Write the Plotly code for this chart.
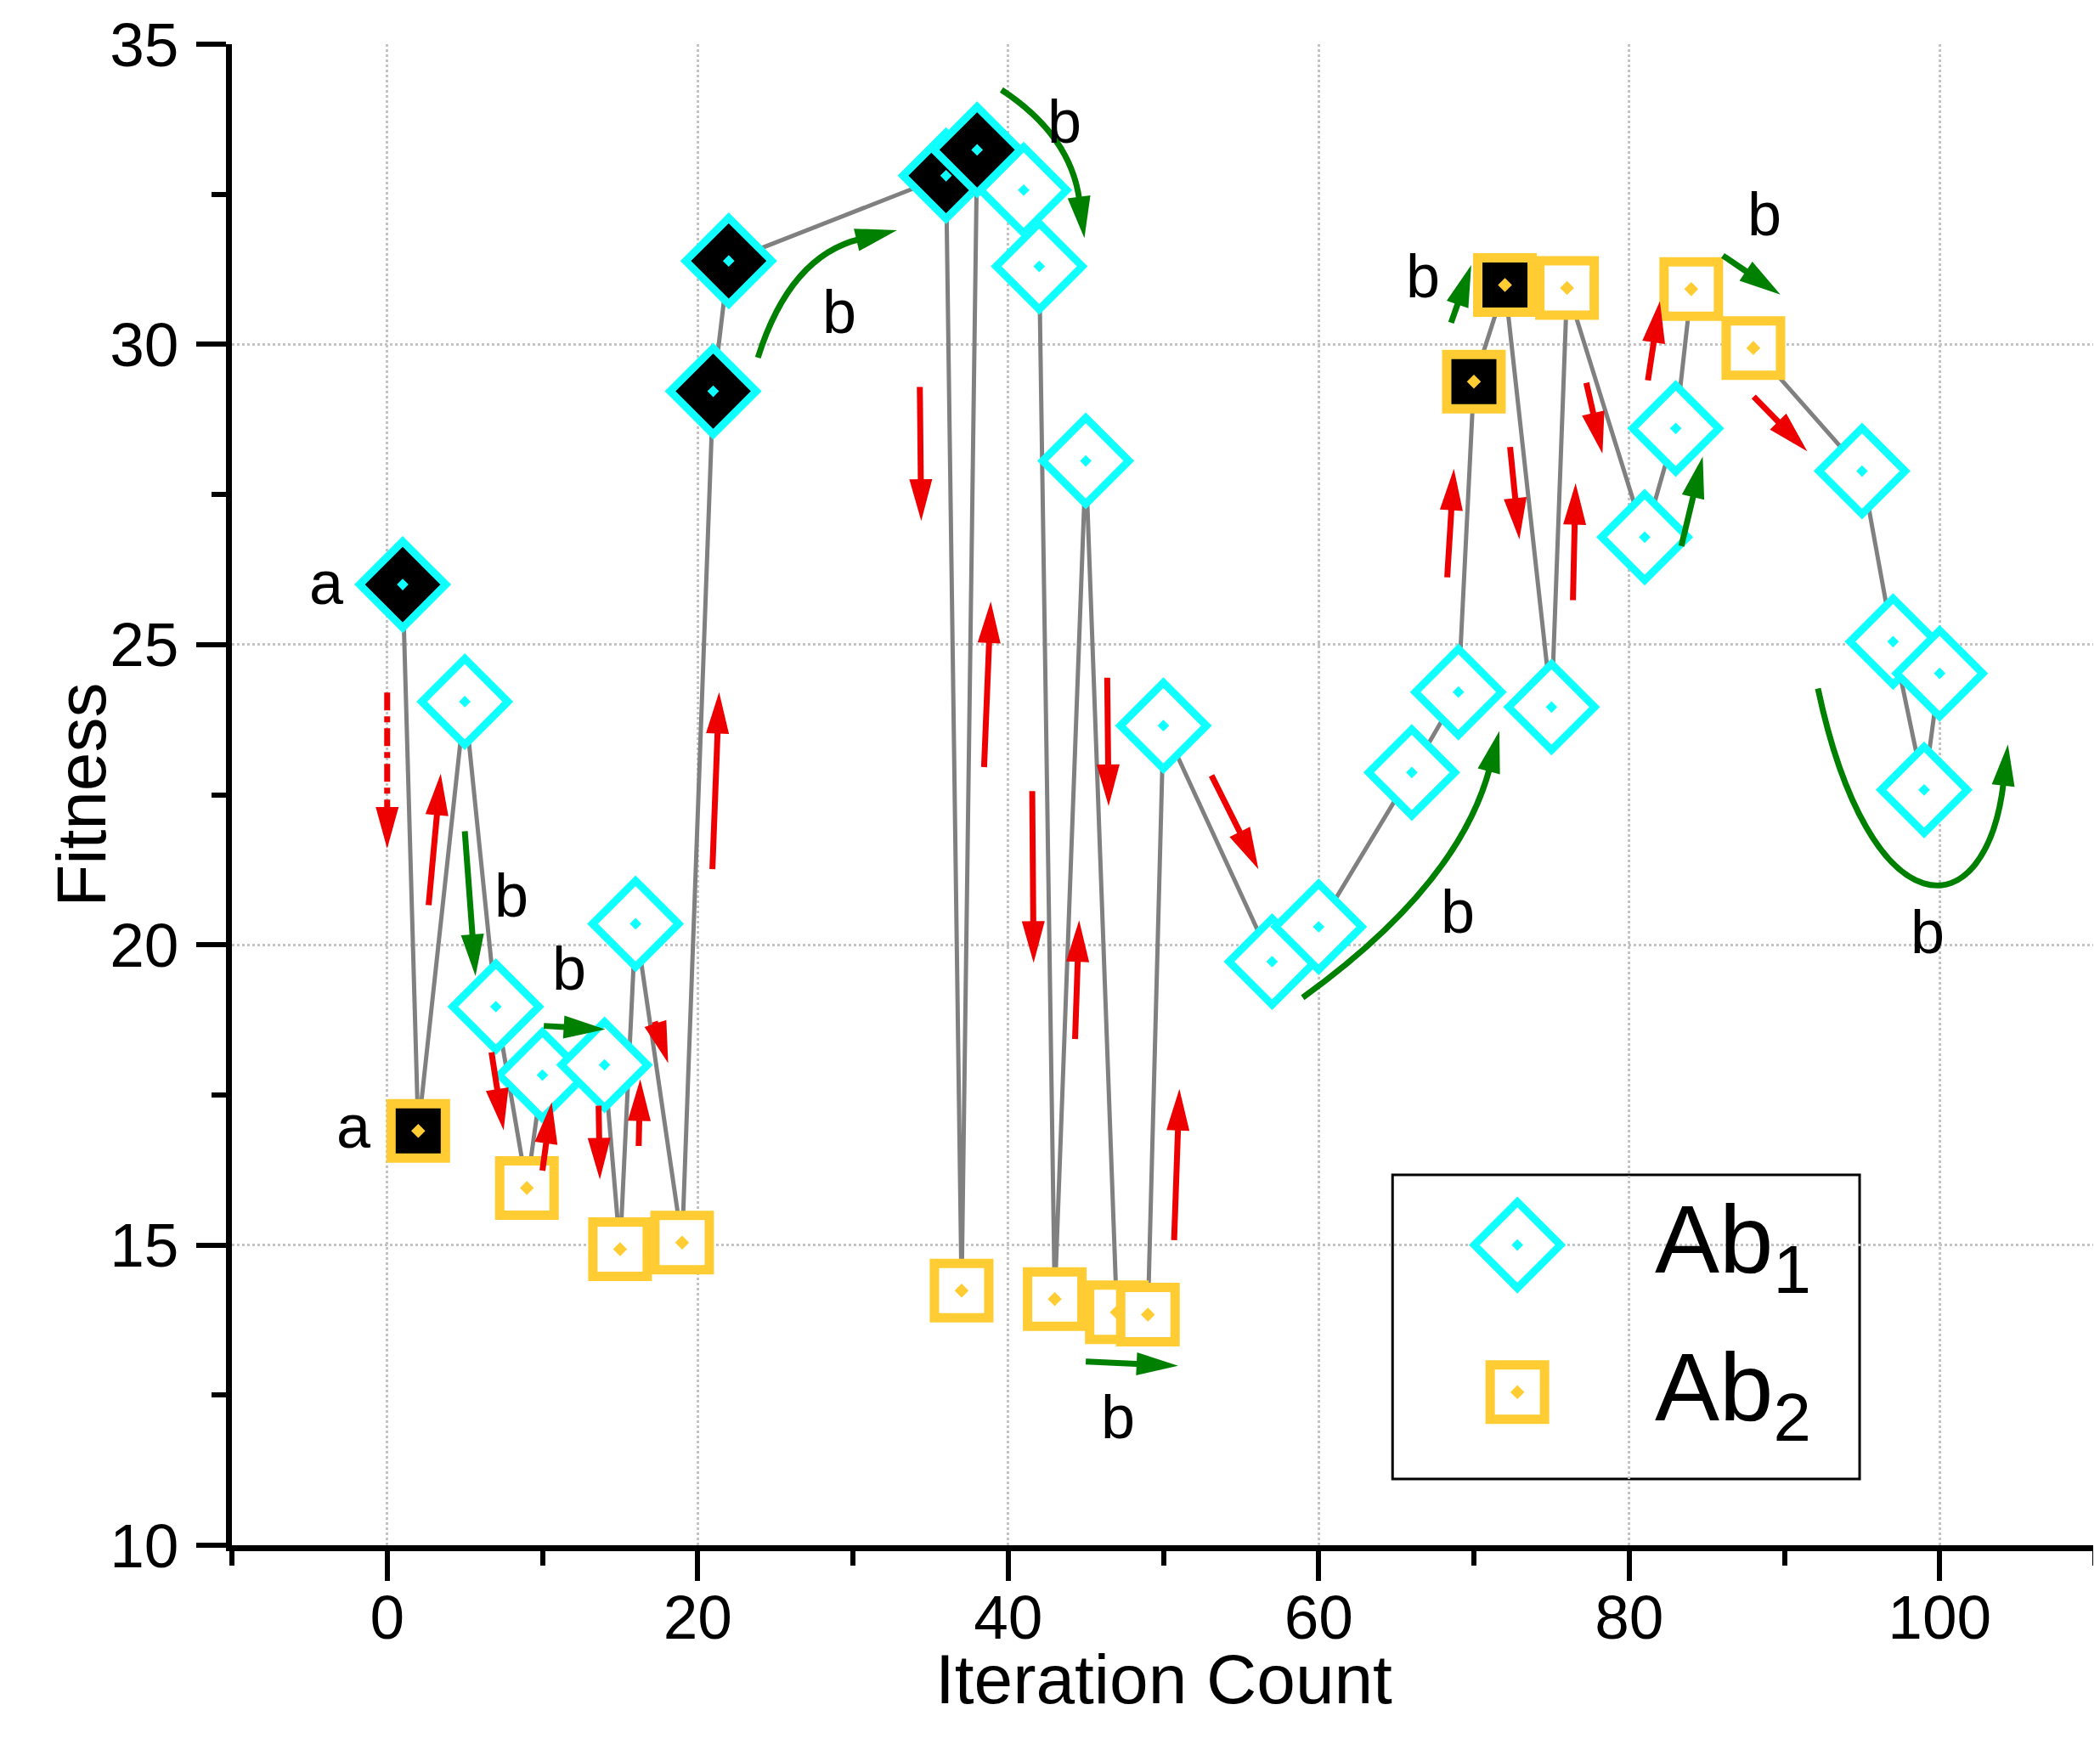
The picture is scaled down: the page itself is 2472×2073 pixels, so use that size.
import math
import plotly.graph_objects as go

# fitness of the two antibodies
ab1_iter = [1, 5, 7, 10, 14, 16, 21, 22, 36, 38, 41, 42, 45, 50, 57, 60, 66, 69,
            75, 81, 83, 95, 97, 99, 100]
ab1_fit = [26.0, 24.05, 18.97, 17.83, 18.0, 20.35, 29.22, 31.39, 32.81, 33.24,
           32.57, 31.3, 28.06, 23.65, 19.72, 20.3, 22.87, 24.21, 23.96, 26.79,
           28.6, 27.89, 25.05, 22.58, 24.52]
ab2_iter = [2, 9, 15, 19, 37, 43, 47, 49, 70, 72, 76, 84, 88]
ab2_fit = [16.9, 15.95, 14.93, 15.04, 14.24, 14.1, 13.88, 13.84, 29.38, 30.99,
           30.94, 30.92, 29.94]
# iterations drawn with a black (filled) marker
ab1_best = [1, 21, 22, 36, 38]
ab2_best = [2, 70, 72]

x_ticks = [0, 20, 40, 60, 80, 100]
y_ticks = [10, 15, 20, 25, 30, 35]

# arrows: (tail x, tail y, head x, head y)
red_arrows = [(2.67, 20.66, 3.45, 22.85), (6.72, 18.21, 7.5, 16.91),
              (10.0, 16.24, 10.6, 17.38), (13.62, 17.32, 13.7, 16.09),
              (16.2, 16.65, 16.3, 17.76), (17.24, 18.72, 18.1, 18.03),
              (20.95, 21.26, 21.38, 24.21), (34.31, 29.29, 34.4, 27.06),
              (38.45, 22.96, 38.88, 25.72), (41.55, 22.56, 41.64, 19.7),
              (44.31, 18.43, 44.57, 20.41), (46.38, 24.45, 46.47, 22.31),
              (50.69, 15.08, 51.03, 17.6), (53.1, 22.82, 56.12, 21.26),
              (68.28, 26.12, 68.71, 27.93), (72.33, 28.29, 72.93, 26.75),
              (76.38, 25.74, 76.55, 27.69), (77.24, 29.36, 78.28, 28.18),
              (81.21, 29.4, 81.98, 30.72), (88.02, 29.13, 91.47, 28.22)]
green_arrows = [(5.0, 21.89, 5.69, 19.48), (10.09, 18.65, 14.05, 18.59),
                (45.0, 13.06, 50.95, 12.99), (68.53, 30.36, 69.83, 31.32),
                (83.36, 26.64, 84.74, 28.13), (86.03, 31.48, 89.74, 30.83)]
dashed_arrow = (0.0, 24.2, 0.0, 21.6)
# curved green arrows: start, control point(s), end
green_curves = [[(23.88, 29.78), (25.95, 31.48), (32.84, 31.9)],
                [(39.57, 34.24), (44.05, 33.48), (44.91, 31.77)],
                [(58.97, 19.12), (69.05, 21.0), (71.64, 23.56)],
                [(92.16, 24.27), (95.5, 20.2), (103.0, 20.2), (104.4, 23.34)]]
labels = [("a", -3.88, 26.03), ("a", -2.16, 16.98), ("b", 8.0, 20.82),
          ("b", 11.72, 19.61), ("b", 29.14, 30.54), ("b", 43.62, 33.71),
          ("b", 47.07, 12.14), ("b", 68.97, 20.55), ("b", 66.72, 31.14),
          ("b", 88.71, 32.17), ("b", 99.22, 20.21)]

CYAN = "#10FFFF"
GOLD = "#FFCD33"
RED = "#EE0000"
GREEN = "#008000"
FONT = "Liberation Sans, Arial, sans-serif"

# page has an 8px body margin, keep the plot where the reference has it
W, H = 2458, 2057
ML, MR, MT, MB = 265, 0, 44, 246
sx = (W - ML - MR) / 120.0
sy = (H - MT - MB) / 25.0
HEAD_LEN, HEAD_W = 49, 27
ARROW_W = 7


def head_shape(fx, fy, hx, hy, color):
    # narrow triangle head pointing from (fx, fy) towards (hx, hy), size in px
    dx, dy = (hx - fx) * sx, (hy - fy) * sy
    n = math.hypot(dx, dy)
    ux, uy = dx / n, dy / n
    bx, by = -ux * HEAD_LEN, -uy * HEAD_LEN
    px, py = -uy * HEAD_W / 2, ux * HEAD_W / 2
    c1 = (hx + (bx + px) / sx, hy + (by + py) / sy)
    c2 = (hx + (bx - px) / sx, hy + (by - py) / sy)
    fig.add_shape(type="path", path="M{},{} L{},{} L{},{} Z".format(hx, hy, *c1, *c2),
                  fillcolor=color, line=dict(width=0), layer="above")
    # shaft stops a little inside the head so the ends do not show
    return hx + bx * 0.9 / sx, hy + by * 0.9 / sy


def straight_arrow(arrow, color, dash="solid"):
    tx, ty, hx, hy = arrow
    bx, by = head_shape(tx, ty, hx, hy, color)
    fig.add_shape(type="line", x0=tx, y0=ty, x1=bx, y1=by,
                  line=dict(color=color, width=ARROW_W, dash=dash), layer="above")


pts = sorted(zip(ab1_iter + ab2_iter, ab1_fit + ab2_fit))

fig = go.Figure()
fig.add_trace(go.Scatter(x=[p[0] for p in pts], y=[p[1] for p in pts], mode="lines",
                         line=dict(color="#808080", width=5),
                         showlegend=False, hoverinfo="skip"))
fig.add_trace(go.Scatter(
    x=ab1_iter, y=ab1_fit, mode="markers", name="Ab1", showlegend=False,
    marker=dict(symbol="diamond-dot", size=78,
                color=["black" if i in ab1_best else "white" for i in ab1_iter],
                line=dict(color=CYAN, width=9))))
fig.add_trace(go.Scatter(
    x=ab2_iter, y=ab2_fit, mode="markers", name="Ab2", showlegend=False,
    marker=dict(symbol="square-dot", size=64,
                color=["black" if i in ab2_best else "white" for i in ab2_iter],
                line=dict(color=GOLD, width=11))))

# hand made legend, the plotly one caps the marker size
fig.add_shape(type="rect", xref="paper", yref="paper", x0=0.623, x1=0.8737,
              y0=0.0441, y1=0.2467, line=dict(color="black", width=3),
              fillcolor="white", layer="between")
fig.add_trace(go.Scatter(x=[72.8], y=[15.0], mode="markers", showlegend=False,
                         marker=dict(symbol="diamond-dot", size=78, color="white",
                                     line=dict(color=CYAN, width=9))))
fig.add_trace(go.Scatter(x=[72.8], y=[12.55], mode="markers", showlegend=False,
                         marker=dict(symbol="square-dot", size=64, color="white",
                                     line=dict(color=GOLD, width=11))))
for txt, yy in [("Ab<sub>1</sub>", 0.199), ("Ab<sub>2</sub>", 0.101)]:
    fig.add_annotation(text=txt, xref="paper", yref="paper", x=0.763, y=yy,
                       xanchor="left", yanchor="middle", showarrow=False,
                       font=dict(family=FONT, size=114, color="black"))

for a in red_arrows:
    straight_arrow(a, RED)
for a in green_arrows:
    straight_arrow(a, GREEN)
straight_arrow(dashed_arrow, RED, dash="dashdot")

for c in green_curves:
    (cx, cy), (ex, ey) = c[-2], c[-1]
    bx, by = head_shape(cx, cy, ex, ey, GREEN)
    if len(c) == 3:
        path = "M{},{} Q{},{} {},{}".format(*c[0], *c[1], bx, by)
    else:
        path = "M{},{} C{},{} {},{} {},{}".format(*c[0], *c[1], *c[2], bx, by)
    fig.add_shape(type="path", path=path, line=dict(color=GREEN, width=ARROW_W),
                  layer="above")

for txt, lx, ly in labels:
    fig.add_annotation(text=txt, x=lx, y=ly, showarrow=False,
                       font=dict(family=FONT, size=72, color="black"))

# axis titles sit tighter to the tick labels than plotly's standoff allows
fig.add_annotation(text="Iteration Count", xref="paper", yref="paper", x=0.5,
                   y=-0.089, showarrow=False, xanchor="center", yanchor="middle",
                   font=dict(family=FONT, size=82, color="black"))
fig.add_annotation(text="Fitness", xref="paper", yref="paper", x=-0.081, y=0.5,
                   textangle=-90, showarrow=False, xanchor="center",
                   yanchor="middle", font=dict(family=FONT, size=82, color="black"))

axis_common = dict(showline=True, linecolor="black", linewidth=7, ticks="outside",
                   ticklen=35, tickwidth=6, tickcolor="black", showgrid=True,
                   gridcolor="#C4C4C4", griddash="dot", gridwidth=3, zeroline=False,
                   tickfont=dict(family=FONT, size=73, color="black"))
fig.update_xaxes(range=[-10, 110], tickvals=x_ticks, ticklabelstandoff=-20,
                 minor=dict(dtick=10, tick0=0, ticklen=17, tickwidth=6,
                            ticks="outside", tickcolor="black", showgrid=False),
                 **axis_common)
fig.update_yaxes(range=[10, 35], tickvals=y_ticks, ticklabelstandoff=6,
                 minor=dict(dtick=2.5, tick0=10, ticklen=17, tickwidth=6,
                            ticks="outside", tickcolor="black", showgrid=False),
                 **axis_common)
fig.update_layout(width=W, height=H, margin=dict(l=ML, r=MR, t=MT, b=MB),
                  plot_bgcolor="white", paper_bgcolor="white", showlegend=False,
                  font=dict(family=FONT, color="black"))

fig.write_html("out.html")
